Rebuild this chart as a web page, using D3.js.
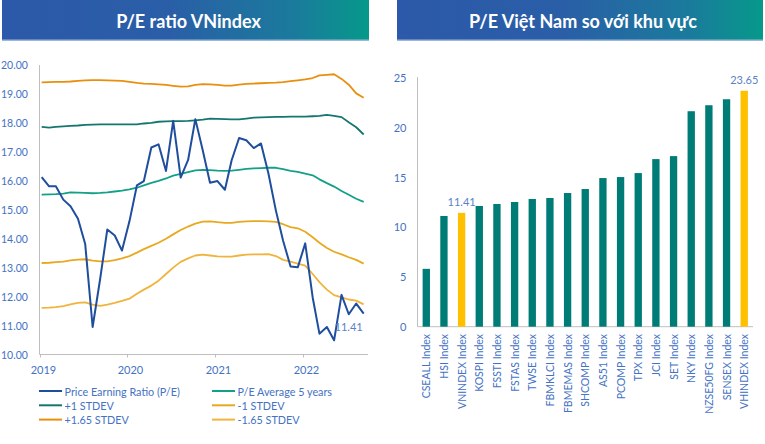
<!DOCTYPE html>
<html><head><meta charset="utf-8">
<script src="https://cdn.jsdelivr.net/npm/d3@7/dist/d3.min.js"></script>
<style>body{margin:0;background:#fff}svg{display:block}text{font-family:Lato,"Open Sans",sans-serif}</style>
</head><body><svg id="c" width="765" height="444"></svg>
<script>
// ---- Left chart data (monthly, Jan 2019 - Sep 2022) ----
const startYear = 2019, monthCount = 45;
const peRatio = [16.13,15.81,15.81,15.35,15.12,14.69,13.82,10.95,12.6,14.32,14.11,13.59,
  14.6,15.84,15.99,17.15,17.26,16.34,18.07,16.11,16.72,18.13,17.05,15.93,
  15.99,15.69,16.71,17.48,17.40,17.13,17.29,16.25,14.97,13.93,13.04,13.01,
  13.84,11.97,10.72,10.95,10.49,12.06,11.39,11.76,11.41];
const peAvg5y = [15.52,15.53,15.54,15.56,15.60,15.59,15.58,15.57,15.58,15.60,15.63,15.66,
  15.70,15.76,15.84,15.93,16.00,16.08,16.18,16.24,16.30,16.36,16.38,16.37,
  16.35,16.34,16.35,16.38,16.41,16.43,16.44,16.45,16.45,16.40,16.34,16.31,
  16.25,16.19,16.05,15.92,15.80,15.65,15.52,15.38,15.27];
const plus1 = [17.86,17.84,17.86,17.88,17.90,17.91,17.93,17.94,17.95,17.95,17.95,17.95,
  17.95,17.95,17.98,18.00,18.04,18.05,18.06,18.06,18.07,18.09,18.11,18.15,
  18.14,18.13,18.12,18.12,18.15,18.18,18.19,18.20,18.21,18.21,18.22,18.22,
  18.22,18.23,18.24,18.28,18.24,18.20,18.02,17.85,17.60];
const plus165 = [19.40,19.41,19.42,19.42,19.43,19.45,19.47,19.48,19.48,19.47,19.46,19.45,
  19.42,19.38,19.36,19.35,19.33,19.31,19.28,19.25,19.26,19.31,19.34,19.33,
  19.31,19.29,19.29,19.32,19.35,19.36,19.37,19.38,19.39,19.41,19.44,19.47,
  19.50,19.55,19.64,19.66,19.68,19.52,19.32,19.02,18.87];
const minus1 = [13.16,13.17,13.19,13.21,13.25,13.28,13.29,13.24,13.22,13.22,13.26,13.32,
  13.40,13.52,13.64,13.75,13.86,14.00,14.15,14.30,14.42,14.52,14.59,14.60,
  14.57,14.55,14.55,14.58,14.60,14.61,14.61,14.60,14.58,14.50,14.40,14.36,
  14.24,14.05,13.86,13.68,13.55,13.46,13.36,13.27,13.14];
const minus165 = [11.61,11.62,11.64,11.67,11.73,11.78,11.80,11.72,11.68,11.72,11.78,11.85,
  11.93,12.10,12.24,12.38,12.55,12.78,13.00,13.20,13.32,13.42,13.45,13.42,
  13.39,13.38,13.38,13.42,13.45,13.46,13.46,13.47,13.40,13.27,13.21,13.14,
  13.07,12.78,12.50,12.24,12.05,11.97,11.90,11.86,11.73];
const leftYTicks = [10,11,12,13,14,15,16,17,18,19,20];
const yearTicks = [2019,2020,2021,2022];
const legendNames = ["Price Earning Ratio (P/E)","P/E Average 5 years","+1 STDEV","-1 STDEV","+1.65 STDEV","-1.65 STDEV"];

// ---- Right chart data ----
const indices = ["CSEALL Index","HSI Index","VNINDEX Index","KOSPI Index","FSSTI Index","FSTAS Index","TWSE Index",
  "FBMKLCI Index","FBMEMAS Index","SHCOMP Index","AS51 Index","PCOMP Index","TPX Index","JCI Index",
  "SET Index","NKY Index","NZSE50FG Index","SENSEX Index","VHINDEX Index"];
const peValues = [5.8,11.1,11.41,12.1,12.3,12.5,12.8,12.9,13.4,13.8,14.9,15.0,15.4,16.8,17.1,21.6,22.2,22.8,23.65];
const highlighted = ["VNINDEX Index","VHINDEX Index"];
const rightYTicks = [0,5,10,15,20,25];

const titles = ["P/E ratio VNindex","P/E Việt Nam so với khu vực"];

// ---- Drawing ----
const svg = d3.select("#c");
const defs = svg.append("defs");
const grad = defs.append("linearGradient").attr("id","g").attr("x1","0").attr("x2","1").attr("y1","0").attr("y2","0");
grad.append("stop").attr("offset","0").attr("stop-color","#2c59a9");
grad.append("stop").attr("offset","0.45").attr("stop-color","#2a5ea7");
grad.append("stop").attr("offset","0.8").attr("stop-color","#1a7b9c");
grad.append("stop").attr("offset","1").attr("stop-color","#06998a");

const banners = [[2,369],[397,763]];
banners.forEach((b,i)=>{
  svg.append("rect").attr("x",b[0]).attr("y",1).attr("width",b[1]-b[0]).attr("height",40).attr("fill","#9cb7dc");
  svg.append("rect").attr("x",b[0]).attr("y",0).attr("width",b[1]-b[0]).attr("height",39.5).attr("fill","url(#g)");
  svg.append("text").attr("x",(b[0]+b[1])/2+3).attr("y",21).attr("text-anchor","middle").attr("dominant-baseline","central")
    .attr("fill","#fff").attr("font-weight","bold").attr("font-size",18).text(titles[i]);
});

const blue = "#4472c4", axisCol = "#bfbfbf";
// Left chart
const dates = d3.range(monthCount).map(i=>new Date(startYear, i, 10));
const xL = d3.scaleTime().domain([new Date(2019,0,1), new Date(2022,8,28)]).range([39.5,368]);
const yL = d3.scaleLinear().domain([10,20]).range([354.5,65]);
const gL = svg.append("g");
gL.append("line").attr("x1",39.5).attr("x2",39.5).attr("y1",65).attr("y2",354.5).attr("stroke",axisCol);
gL.append("line").attr("x1",39.5).attr("x2",368).attr("y1",354.5).attr("y2",354.5).attr("stroke",axisCol);
leftYTicks.forEach(t=>{
  gL.append("text").attr("x",1).attr("y",yL(t)).attr("text-anchor","start").attr("dominant-baseline","central")
    .attr("font-size",10.5).attr("fill",blue).text(t.toFixed(2));
});
yearTicks.forEach(yr=>{
  const x = Math.round(xL(new Date(yr,0,1)))+0.5;
  gL.append("line").attr("x1",x).attr("x2",x).attr("y1",354.5).attr("y2",357.5).attr("stroke",axisCol);
  gL.append("text").attr("x",x+3).attr("y",369).attr("text-anchor","middle").attr("dominant-baseline","central")
    .attr("font-size",11).attr("fill",blue).text(yr);
});
const seriesL = [
  {v:minus165,c:"#f0b43c",w:1.8},
  {v:minus1,c:"#e8a920",w:1.8},
  {v:peAvg5y,c:"#12a088",w:1.8},
  {v:plus1,c:"#137770",w:1.8},
  {v:plus165,c:"#e8900e",w:1.8},
  {v:peRatio,c:"#1f4e9e",w:2}
];
const line = d3.line().x((d,i)=>xL(dates[i])).y(d=>yL(d));
seriesL.forEach(s=>{
  gL.append("path").attr("d",line(s.v)).attr("fill","none").attr("stroke",s.c).attr("stroke-width",s.w).attr("stroke-linejoin","round");
});
gL.append("text").attr("x",xL(dates[monthCount-1])-1).attr("y",yL(peRatio[monthCount-1])+13).attr("text-anchor","end")
  .attr("dominant-baseline","central").attr("font-size",11).attr("fill","#5b7fc9").text(peRatio[monthCount-1].toFixed(2));

// Legend
const legColors = ["#1f4e9e","#12a088","#137770","#e8a920","#e8900e","#f0b43c"];
legendNames.forEach((n,i)=>{
  const col = i%2, row = Math.floor(i/2);
  const x0 = col===0?39:212, y0 = 391 + row*14.3;
  gL.append("line").attr("x1",x0).attr("x2",x0+23).attr("y1",y0).attr("y2",y0).attr("stroke",legColors[i]).attr("stroke-width",2);
  gL.append("text").attr("x",x0+25.5).attr("y",y0).attr("dominant-baseline","central").attr("font-size",10.8).attr("fill",blue).text(n);
});

// Right chart
const xR = d3.scaleBand().domain(indices).range([417.5,753]).paddingInner(0.585).paddingOuter(0.29);
const yR = d3.scaleLinear().domain([0,25]).range([326.7,77.3]);
const gR = svg.append("g");
gR.append("line").attr("x1",417.5).attr("x2",417.5).attr("y1",77).attr("y2",326.7).attr("stroke",axisCol);
gR.append("line").attr("x1",417.5).attr("x2",753).attr("y1",326.7).attr("y2",326.7).attr("stroke",axisCol);
rightYTicks.forEach(t=>{
  gR.append("text").attr("x",406.5).attr("y",yR(t)).attr("text-anchor","end").attr("dominant-baseline","central")
    .attr("font-size",11).attr("fill",blue).text(t);
});
indices.forEach((n,i)=>{
  const hl = highlighted.includes(n);
  gR.append("rect").attr("x",xR(n)).attr("y",yR(peValues[i])).attr("width",xR.bandwidth()).attr("height",yR(0)-yR(peValues[i]))
    .attr("fill",hl?"#ffc000":"#007c76");
  const cx = xR(n)+xR.bandwidth()/2;
  gR.append("text").attr("transform",`translate(${cx},334) rotate(-90)`).attr("text-anchor","end").attr("dominant-baseline","central")
    .attr("font-size",10.5).attr("fill",blue).text(n);
  if(hl){
    gR.append("text").attr("x",cx).attr("y",yR(peValues[i])-11).attr("text-anchor","middle").attr("dominant-baseline","central")
      .attr("font-size",11).attr("fill","#5b7fc9").text(peValues[i].toFixed(2));
  }
});
</script></body></html>
